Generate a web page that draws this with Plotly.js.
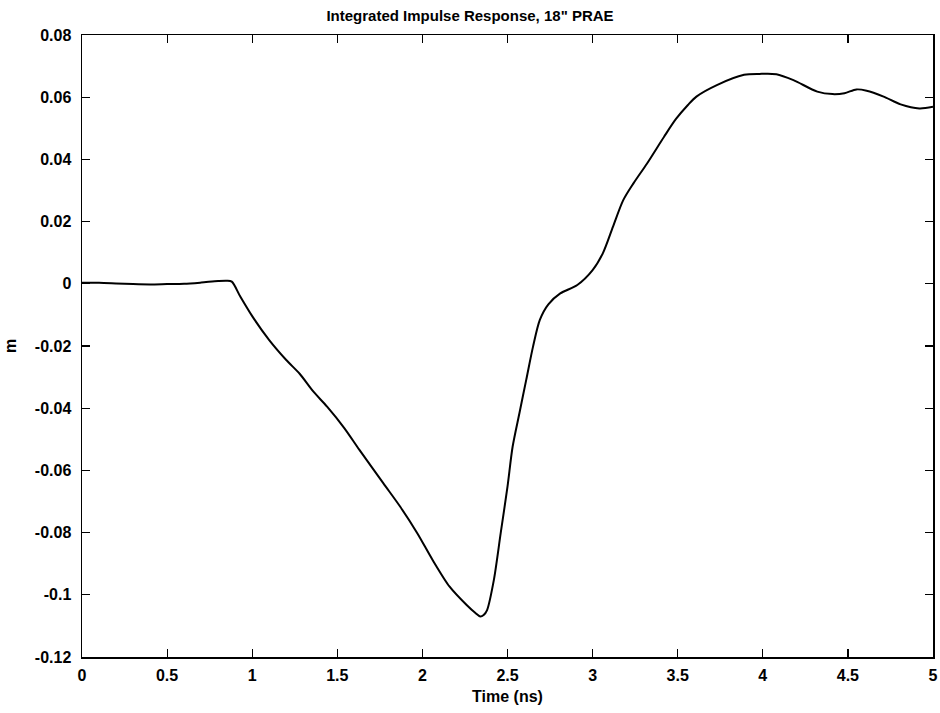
<!DOCTYPE html>
<html>
<head>
<meta charset="utf-8">
<script src="https://cdn.plot.ly/plotly-3.0.1.min.js"></script>
<style>html,body{margin:0;padding:0;background:#fff;}#chart{width:940px;height:713px;}</style>
</head>
<body>
<div id="chart"></div>
<script>
var timeNs = [0, 0.1, 0.2, 0.3, 0.4, 0.5, 0.6, 0.7, 0.8, 0.85, 0.88, 0.93, 1.0, 1.1, 1.2, 1.28, 1.36, 1.44, 1.54, 1.63, 1.77, 1.87, 1.97, 2.06, 2.16, 2.26, 2.31, 2.34, 2.36, 2.38, 2.42, 2.46, 2.5, 2.53, 2.57, 2.61, 2.65, 2.69, 2.74, 2.81, 2.91, 3.0, 3.06, 3.12, 3.18, 3.24, 3.32, 3.42, 3.49, 3.56, 3.61, 3.73, 3.89, 3.98, 4.08, 4.18, 4.32, 4.41, 4.48, 4.55, 4.61, 4.71, 4.81, 4.92, 5.0];
var response = [0.0003, 0.0003, 0.0001, -0.0001, -0.0002, -0.0001, 0.0000, 0.0004, 0.0009, 0.001, 0.0007, -0.0041, -0.0104, -0.0181, -0.0245, -0.0290, -0.0347, -0.0395, -0.0463, -0.0534, -0.0641, -0.0717, -0.0802, -0.0888, -0.0974, -0.1033, -0.1058, -0.1070, -0.1065, -0.1049, -0.0952, -0.0802, -0.0652, -0.0524, -0.0416, -0.0309, -0.0202, -0.0116, -0.0066, -0.0031, -0.0004, 0.0044, 0.0098, 0.0184, 0.0269, 0.0323, 0.0387, 0.0473, 0.0530, 0.0575, 0.0602, 0.0639, 0.0672, 0.0675, 0.0674, 0.0655, 0.0618, 0.0610, 0.0613, 0.0625, 0.0621, 0.0602, 0.0577, 0.0564, 0.0569];
var xTicks = [0, 0.5, 1, 1.5, 2, 2.5, 3, 3.5, 4, 4.5, 5];
var xTickText = ['0', '0.5', '1', '1.5', '2', '2.5', '3', '3.5', '4', '4.5', '5'];
var yTicks = [-0.12, -0.1, -0.08, -0.06, -0.04, -0.02, 0, 0.02, 0.04, 0.06, 0.08];
var yTickText = ['-0.12', '-0.1', '-0.08', '-0.06', '-0.04', '-0.02', '0', '0.02', '0.04', '0.06', '0.08'];

var fontFam = 'Liberation Sans Narrow, Liberation Sans, Arial, sans-serif';
var trace = {
  x: timeNs, y: response, type: 'scatter', mode: 'lines',
  line: {color: '#000', width: 2, shape: 'spline', smoothing: 0.8},
  hoverinfo: 'skip'
};
var axisCommon = {
  showgrid: false, zeroline: false, showline: true, linecolor: '#000', linewidth: 1.5,
  mirror: 'ticks', ticks: 'inside', ticklen: 8, tickwidth: 1.2, tickcolor: '#000',
  tickfont: {family: fontFam, size: 16, color: '#000', weight: 'bold'}
};
var layout = {
  width: 940, height: 713,
  margin: {l: 82, r: 7, t: 35, b: 56},
  paper_bgcolor: '#fff', plot_bgcolor: '#fff',
  showlegend: false,
  title: {text: 'Integrated Impulse Response, 18" PRAE', x: 0.5, xanchor: 'center', y: 0.985, yanchor: 'top',
          font: {family: fontFam, size: 15, color: '#000', weight: 'bold'}},
  xaxis: Object.assign({}, axisCommon, {
    range: [0, 5], tickvals: xTicks, ticktext: xTickText, ticklabelstandoff: 3,
    title: {text: 'Time (ns)', standoff: 8, font: {family: fontFam, size: 16, color: '#000', weight: 'bold'}}
  }),
  yaxis: Object.assign({}, axisCommon, {
    range: [-0.12, 0.08], tickvals: yTicks, ticktext: yTickText, ticklabelstandoff: 6,
    title: {text: 'm', standoff: 14, font: {family: fontFam, size: 16, color: '#000', weight: 'bold'}}
  })
};
Plotly.newPlot('chart', [trace], layout, {displayModeBar: false, staticPlot: true});
</script>
</body>
</html>
